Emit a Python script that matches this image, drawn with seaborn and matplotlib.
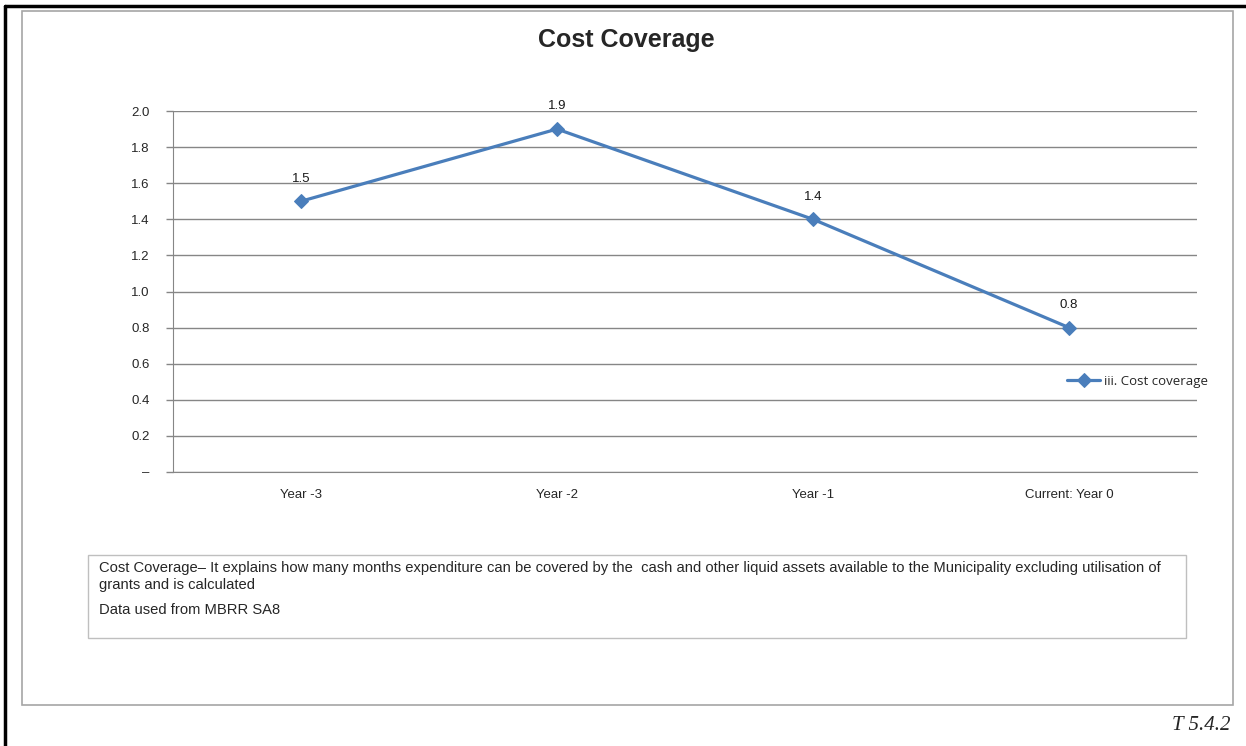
import pandas as pd
import matplotlib.pyplot as plt
import seaborn as sns
from matplotlib.patches import Rectangle
from matplotlib.lines import Line2D

# chart data
years = ["Year -3", "Year -2", "Year -1", "Current: Year 0"]
cost_coverage = [1.5, 1.9, 1.4, 0.8]
series_name = "iii. Cost coverage"
y_ticks = [0, 0.2, 0.4, 0.6, 0.8, 1.0, 1.2, 1.4, 1.6, 1.8, 2.0]
y_labels = ["\u2013", "0.2", "0.4", "0.6", "0.8", "1.0", "1.2", "1.4", "1.6", "1.8", "2.0"]

df = pd.DataFrame({"Year": years, "Value": cost_coverage})

sns.set_style("white")
plt.rcParams["font.family"] = ["Liberation Sans", "DejaVu Sans"]

W, H = 1246, 746
fig = plt.figure(figsize=(W / 100, H / 100), dpi=100)

def fx(px):
    return px / W

def fy(py):
    return 1 - py / H

# outer black frame (left + top)
fig.add_artist(Line2D([fx(5), fx(5)], [fy(6), 0], color="black", lw=2.5, transform=fig.transFigure))
fig.add_artist(Line2D([fx(5), 1], [fy(6), fy(6)], color="black", lw=2.5, transform=fig.transFigure))
# gray chart area border
fig.add_artist(Rectangle((fx(22), fy(705)), fx(1233 - 22), (705 - 11) / H, transform=fig.transFigure,
                         fill=False, edgecolor="#a6a6a6", lw=1.2))

ax = fig.add_axes([fx(173), fy(472), fx(1197 - 173), (472 - 111) / H])
blue = "#4a7ebb"
sns.lineplot(data=df, x="Year", y="Value", ax=ax, sort=False, color=blue, lw=2.3,
             marker="D", markersize=7, markeredgecolor=blue, label=series_name)

for i, v in enumerate(cost_coverage):
    ax.annotate(f"{v:.1f}", (i, v), xytext=(0, 12), textcoords="offset points",
                ha="center", va="bottom", fontsize=9.5, color="#1a1a1a")

ax.set_xlim(-0.5, len(years) - 0.5)
ax.set_ylim(0, 2.0)
ax.set_yticks(y_ticks)
ax.set_yticklabels(y_labels, fontsize=9.5)
ax.set_xticks(range(len(years)))
ax.set_xticklabels(years, fontsize=9.5)
ax.tick_params(axis="x", which="major", length=0, pad=12)
ax.set_xticks([i - 0.5 for i in range(len(years) + 1)], minor=True)
ax.tick_params(axis="x", which="minor", length=5, color="#868686", width=1)
ax.tick_params(axis="y", length=5, color="#868686", width=1, pad=12, left=True)
ax.grid(axis="y", color="#868686", lw=1)
ax.set_axisbelow(True)
for s in ["top", "right"]:
    ax.spines[s].set_visible(False)
ax.spines["left"].set_color("#868686")
ax.spines["bottom"].set_color("#868686")
ax.set_xlabel("")
ax.set_ylabel("")

ax_w = 1197 - 173
leg = ax.legend(loc="center left", bbox_to_anchor=((1062 - 173) / ax_w, (472 - 381) / (472 - 111)),
                frameon=False, prop={"family": "Open Sans", "size": 9.5}, handlelength=2.5,
                handletextpad=0.3, borderaxespad=0)

fig.text(fx(626), fy(40), "Cost Coverage", ha="center", va="center", fontsize=18, fontweight="bold")

# note box
fig.add_artist(Rectangle((fx(88), fy(638)), fx(1186 - 88), (638 - 555) / H, transform=fig.transFigure,
                         fill=False, edgecolor="#bfbfbf", lw=1))
note = ("Cost Coverage\u2013 It explains how many months expenditure can be covered by the  cash and other liquid "
        "assets available to the Municipality excluding utilisation of\ngrants and is calculated")
fig.text(fx(99), fy(561), note, ha="left", va="top", fontsize=10.6, linespacing=1.3)
fig.text(fx(99), fy(603), "Data used from MBRR SA8", ha="left", va="top", fontsize=10.6)

fig.text(fx(1231), fy(725), "T 5.4.2", ha="right", va="center", fontsize=15, style="italic",
         family="Liberation Serif")

plt.savefig("out.png", dpi=100)
